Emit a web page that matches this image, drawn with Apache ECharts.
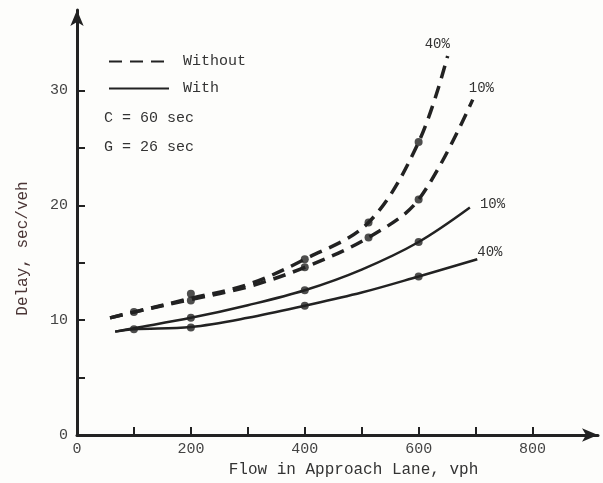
<!DOCTYPE html>
<html>
<head>
<meta charset="utf-8">
<script src="https://cdn.jsdelivr.net/npm/echarts@6/dist/echarts.min.js"></script>
<style>
  html, body { margin: 0; padding: 0; background: #fdfdfb; }
  #chart { width: 603px; height: 483px; }
</style>
</head>
<body>
<div id="chart"></div>
<script>
  // data
  const withoutFlow40 = [58, 100, 200, 300, 400, 512, 600, 651];
  const withoutDelay40 = [10.2, 10.7, 11.9, 13.1, 15.3, 18.5, 25.5, 33.0];
  const withoutFlow10 = [58, 100, 200, 300, 400, 512, 600, 695];
  const withoutDelay10 = [10.2, 10.7, 11.8, 12.9, 14.6, 17.2, 20.5, 29.2];
  const withFlow10 = [67, 100, 200, 300, 400, 500, 600, 690];
  const withDelay10 = [9.0, 9.3, 10.2, 11.3, 12.6, 14.4, 16.8, 19.8];
  const withFlow40 = [67, 100, 200, 300, 400, 500, 600, 703];
  const withDelay40 = [9.0, 9.2, 9.4, 10.2, 11.25, 12.4, 13.8, 15.3];
  // measured points (dots)
  const dotFlow = [100, 200, 200, 400, 400, 512, 512, 600, 600, 100, 200, 200, 400, 400, 600, 600];
  const dotDelay = [10.7, 12.3, 11.7, 15.3, 14.6, 18.5, 17.2, 25.5, 20.5, 9.2, 10.2, 9.35, 12.6, 11.25, 16.8, 13.8];
  const xTicks = [100, 200, 300, 400, 500, 600, 700, 800];
  const xLabels = [0, 200, 400, 600, 800];
  const yTicks = [5, 10, 15, 20, 25, 30];
  const yLabels = [0, 10, 20, 30];

  const ink = '#222';
  const mono = '"Liberation Mono", "DejaVu Sans Mono", monospace';
  const zip = (a, b) => a.map((v, i) => [v, b[i]]);

  const myChart = echarts.init(document.getElementById('chart'));

  function curve(name, xs, ys, dashed, label, offset) {
    return {
      type: 'line',
      name: name,
      data: zip(xs, ys),
      smooth: 0.35,
      symbol: 'none',
      lineStyle: {
        color: ink,
        width: dashed ? 3.5 : 2.5,
        type: dashed ? [13, 8] : 'solid',
      },
      itemStyle: { color: ink },
      endLabel: {
        show: true,
        formatter: label,
        fontFamily: mono,
        fontSize: 14,
        color: '#333',
        offset: offset,
      },
      silent: true,
      z: 3,
    };
  }

  const option = {
    backgroundColor: '#fdfdfb',
    animation: false,
    grid: { left: 77, right: 5, top: 10, bottom: 46 },
    legend: {
      data: ['Without', 'With'],
      orient: 'vertical',
      left: 103,
      top: 49,
      itemWidth: 60,
      itemHeight: 16,
      itemGap: 12,
      itemStyle: { opacity: 0 },
      textStyle: { fontFamily: mono, fontSize: 15, color: '#333', padding: [0, 0, 0, 9] },
    },
    graphic: [
      { type: 'text', left: 104, top: 111, style: { text: 'C = 60 sec', font: '15px ' + mono, fill: '#333' } },
      { type: 'text', left: 104, top: 140, style: { text: 'G = 26 sec', font: '15px ' + mono, fill: '#333' } },
    ],
    xAxis: {
      type: 'value',
      min: 0,
      max: 915,
      name: 'Flow in Approach Lane, vph',
      nameLocation: 'middle',
      nameGap: 27,
      nameTextStyle: { fontFamily: mono, fontSize: 16, color: '#333', padding: [0, 0, 0, 32] },
      axisLine: { show: true, symbol: ['none', 'arrow'], symbolSize: [10, 16], lineStyle: { color: ink, width: 3 } },
      axisTick: { show: true, inside: true, length: 8, customValues: xTicks, lineStyle: { color: ink, width: 2 } },
      axisLabel: { customValues: xLabels, fontFamily: mono, fontSize: 15, color: '#444', margin: 7 },
      splitLine: { show: false },
    },
    yAxis: {
      type: 'value',
      min: 0,
      max: 37,
      name: 'Delay, sec/veh',
      nameLocation: 'middle',
      nameGap: 46,
      nameRotate: 90,
      nameTextStyle: { fontFamily: mono, fontSize: 16, color: '#4a3535', padding: [0, 52, 0, 0] },
      axisLine: { show: true, symbol: ['none', 'arrow'], symbolSize: [10, 16], lineStyle: { color: ink, width: 3 } },
      axisTick: { show: true, inside: true, length: 8, customValues: yTicks, lineStyle: { color: ink, width: 2 } },
      axisLabel: { customValues: yLabels, fontFamily: mono, fontSize: 15, color: '#444', margin: 9 },
      splitLine: { show: false },
    },
    series: [
      curve('Without', withoutFlow40, withoutDelay40, true, '40%', [-31, -12]),
      curve('Without', withoutFlow10, withoutDelay10, true, '10%', [-12, -11]),
      curve('With', withFlow10, withDelay10, false, '10%', [2, -3]),
      curve('With', withFlow40, withDelay40, false, '40%', [-8, -7]),
      {
        type: 'scatter',
        name: 'points',
        data: zip(dotFlow, dotDelay),
        symbolSize: 8,
        itemStyle: { color: ink },
        silent: true,
        z: 4,
      },
    ],
  };
  myChart.setOption(option);
</script>
</body>
</html>
